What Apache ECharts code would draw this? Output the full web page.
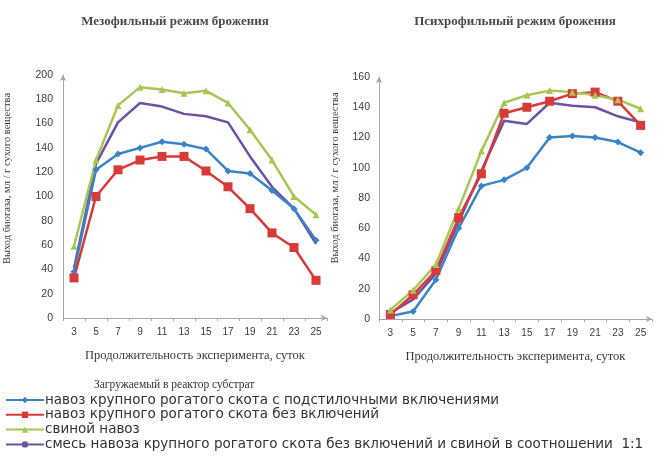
<!DOCTYPE html>
<html>
<head>
<meta charset="utf-8">
<script src="https://cdn.jsdelivr.net/npm/echarts@6/dist/echarts.min.js"></script>
<style>
  html, body { margin: 0; padding: 0; background: #fff; }
  #chart { width: 665px; height: 473px; }
</style>
</head>
<body>
<div id="chart"></div>
<script>
// Продолжительность эксперимента, сутки
const days = ['3', '5', '7', '9', '11', '13', '15', '17', '19', '21', '23', '25'];

const seriesNames = [
  'навоз крупного рогатого скота с подстилочными включениями',
  'навоз крупного рогатого скота без включений',
  'свиной навоз',
  'смесь навоза крупного рогатого скота без включений и свиной в соотношении  1:1'
];

// Мезофильный режим брожения, мл / г сухого вещества
const mesoBedding = [38, 122, 135, 140, 145, 143, 139, 121, 119, 105, 90, 64];
const mesoCattle  = [33, 100, 122, 130, 133, 133, 121, 108, 90, 70, 58, 31];
const mesoPig     = [59, 130, 175, 190, 188, 185, 187, 177, 155, 130, 100, 85];
const mesoMix     = [41, 127, 161, 177, 174, 168, 166, 161, 133, 108, 90, 61];

// Психрофильный режим брожения, мл / г сухого вещества
const psychroBedding = [2, 5, 26, 60, 88, 92, 100, 120, 121, 120, 117, 110];
const psychroCattle  = [3, 16, 32, 67, 96, 136, 140, 144, 149, 150, 144, 128];
const psychroPig     = [6, 19, 36, 73, 111, 143, 148, 151, 150, 148, 145, 139];
const psychroMix     = [4, 13, 30, 64, 98, 131, 129, 143, 141, 140, 134, 130];

const colors = ['#3b83c8', '#d83a3a', '#a8c655', '#6c52a4'];
const symbols = ['diamond', 'rect', 'triangle', 'none'];
const symbolSizes = [7, 9, 7, 0];

const serif = 'Liberation Serif';
const sans = 'Liberation Sans';
const textColor = '#3a3a3a';

function xAxis(gridIndex, name) {
  return {
    type: 'category', gridIndex, data: days, boundaryGap: true,
    name, nameLocation: 'middle', nameGap: 31,
    nameTextStyle: { fontFamily: serif, fontSize: 12.5, color: textColor },
    axisLine: { lineStyle: { color: '#a6a6a6', width: 1 }, symbol: ['none', 'arrow'], symbolSize: [5, 6] },
    axisTick: { show: true, length: 3, lineStyle: { color: '#a6a6a6' } },
    axisLabel: { fontFamily: sans, fontSize: 10, color: textColor, margin: 9, interval: 0 }
  };
}

// the rotated axis name sits a little above the middle of the axis
function yAxis(gridIndex, max, nameGap, margin, lift) {
  return {
    type: 'value', gridIndex, min: 0, max, interval: 20,
    name: 'Выход биогаза, мл / г сухого вещества', nameLocation: 'middle', nameRotate: 90, nameGap,
    nameTextStyle: { fontFamily: serif, fontSize: 10.5, color: textColor, padding: [0, 0, 0, lift] },
    axisLine: { show: true, lineStyle: { color: '#a6a6a6', width: 1 }, symbol: ['none', 'arrow'], symbolSize: [5, 6] },
    axisTick: { show: false },
    splitLine: { show: false },
    axisLabel: { fontFamily: sans, fontSize: 10.5, color: textColor, margin }
  };
}

function makeSeries(values, gridIdx) {
  return values.map((data, i) => ({
    name: seriesNames[i], type: 'line', xAxisIndex: gridIdx, yAxisIndex: gridIdx,
    data, color: colors[i], symbol: symbols[i], symbolSize: symbolSizes[i],
    lineStyle: { width: 2.5, color: colors[i] },
    itemStyle: { color: colors[i] },
    z: i === 3 ? 2 : 3
  }));
}

const chart = echarts.init(document.getElementById('chart'), null, { renderer: 'canvas' });
chart.setOption({
  animation: false,
  backgroundColor: '#fff',
  title: [
    { text: 'Мезофильный режим брожения', left: 170, top: 10, textAlign: 'center',
      textStyle: { fontFamily: serif, fontSize: 13, fontWeight: 'bold', color: '#4a4a4a' } },
    { text: 'Психрофильный режим брожения', left: 510, top: 10, textAlign: 'center',
      textStyle: { fontFamily: serif, fontSize: 13, fontWeight: 'bold', color: '#4a4a4a' } },
    { text: 'Загружаемый в реактор субстрат', left: 89, top: 374,
      textStyle: { fontFamily: serif, fontSize: 11.5, fontWeight: 'normal', color: '#333' } }
  ],
  grid: [
    { left: 63, right: 338, top: 75, bottom: 155 },
    { left: 379, right: 13, top: 77, bottom: 154 }
  ],
  xAxis: [
    xAxis(0, 'Продолжительность эксперимента, суток'),
    xAxis(1, 'Продолжительность эксперимента, суток')
  ],
  yAxis: [yAxis(0, 200, 50, 10, 36), yAxis(1, 160, 38, 9, 40)],
  legend: {
    orient: 'vertical', left: 0, top: 388, itemGap: 0.8,
    itemWidth: 38, itemHeight: 8,
    data: seriesNames,
    textStyle: { fontFamily: 'DejaVu Sans', fontSize: 13.5, color: '#333', padding: [0, 0, 0, -4] }
  },
  series: [
    ...makeSeries([mesoBedding, mesoCattle, mesoPig, mesoMix], 0),
    ...makeSeries([psychroBedding, psychroCattle, psychroPig, psychroMix], 1)
  ]
});
</script>
</body>
</html>
